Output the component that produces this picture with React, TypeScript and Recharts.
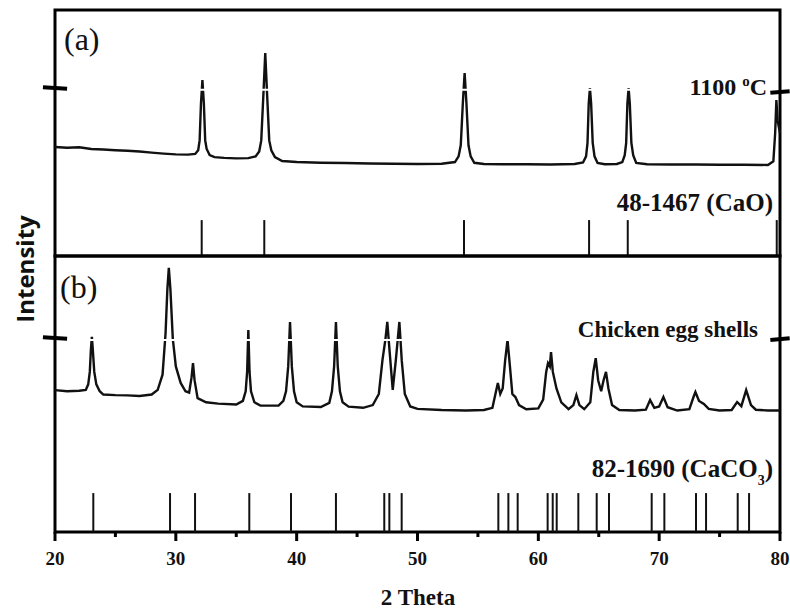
import React from 'react';
import { LineChart, Line, XAxis, YAxis, ReferenceLine, ReferenceArea } from 'recharts';

// (a) CaO after 1100 °C — [2θ, intensity]
const caoScan: [number, number][] = [
  [20, 44.3], [21, 44.0], [22, 44.2], [23, 43.5], [24, 43.3], [25, 43.0], [26, 42.8], [27, 42.5],
  [28, 42.0], [29, 41.6], [30, 41.3], [31, 41.2], [31.6, 41.5], [31.85, 43], [31.97, 47], [32.08, 62], [32.2, 71.5],
  [32.32, 62], [32.43, 47], [32.55, 43.5], [32.8, 41], [33.2, 40.2], [34, 39.9], [35, 39.7], [36, 39.8], [36.6, 40.5],
  [36.9, 42.5], [37.07, 47], [37.25, 66], [37.4, 82.5], [37.55, 66], [37.73, 47], [37.9, 43], [38.2, 40.2], [38.8, 38.6], [40, 38.2],
  [42, 37.9], [44, 37.8], [46, 37.6], [48, 37.5], [50, 37.4], [52, 37.5], [53.1, 38.2], [53.4, 40.5], [53.58, 45],
  [53.75, 62], [53.9, 74.4], [54.05, 62], [54.22, 45], [54.4, 40.5], [54.7, 37.9], [55.5, 37.4], [57, 37.3], [59, 37.3],
  [61, 37.2], [63, 37.4], [63.7, 38], [63.95, 40.5], [64.07, 46], [64.17, 62], [64.27, 68.3], [64.37, 62], [64.5, 46],
  [64.65, 40.5], [64.9, 37.8], [65.5, 37.3], [66.5, 37.4], [66.95, 38.2], [67.15, 41], [67.27, 46], [67.37, 62], [67.47, 68.3],
  [67.57, 62], [67.7, 46], [67.85, 41], [68.1, 37.8], [69, 37.3], [71, 37.2], [73, 37.2], [75, 37.1], [77, 37.1],
  [79, 37.0], [79.45, 38.5], [79.6, 50], [79.7, 63.4], [79.8, 55], [80, 50],
];

// (b) chicken egg shells
const eggScan: [number, number][] = [
  [20, 51.4], [21, 51.0], [22, 51.2], [22.55, 51.5], [22.75, 53.5], [22.88, 58], [22.97, 66], [23.05, 70.7], [23.13, 66],
  [23.25, 58], [23.42, 53.5], [23.7, 51], [24, 49.8], [25, 49.6], [26, 49.5], [27, 49.3], [28, 49.8], [28.5, 51.5],
  [28.9, 57], [29.15, 72], [29.3, 88], [29.42, 95.7], [29.55, 88], [29.75, 70], [30.0, 60], [30.4, 54],
  [30.8, 51], [31.1, 50.5], [31.3, 56], [31.42, 61.2], [31.55, 55], [31.8, 48.5], [32.5, 47.0], [33.5, 46.5],
  [35.0, 46.2], [35.55, 47.5], [35.78, 51], [35.9, 58], [36.0, 73.2], [36.1, 58], [36.22, 51], [36.5, 47], [37, 45.8], [38.5, 45.8],
  [38.9, 47.5], [39.12, 51], [39.3, 60], [39.45, 76.1], [39.6, 60], [39.78, 51], [40.0, 47], [40.5, 45.5], [42, 45.3], [42.7, 46.8],
  [42.92, 51], [43.1, 60], [43.25, 76.1], [43.4, 60], [43.58, 51], [43.8, 47], [44.3, 45.4], [45.5, 45.0], [46.3, 46], [46.8, 50],
  [47.1, 62.3], [47.35, 70], [47.5, 76.1], [47.7, 65], [47.95, 51.5], [48.2, 62], [48.5, 76.1], [48.7, 62],
  [48.95, 50], [49.4, 45.5], [50, 44.6], [52, 44.2], [54, 44.0], [55.5, 44.2], [56.2, 45], [56.5, 51],
  [56.65, 54.0], [56.85, 50], [57.05, 52], [57.25, 62], [57.45, 69.6], [57.65, 60], [57.85, 50], [58.1, 48.9],
  [58.4, 46], [59, 44.5], [60, 44.8], [60.4, 48], [60.65, 58], [60.8, 61.2], [60.95, 60], [61.05, 65.2],
  [61.2, 58], [61.5, 52], [61.9, 47], [62.5, 44.5], [62.9, 46], [63.15, 49.6], [63.4, 46], [63.8, 44.5],
  [64.3, 47], [64.55, 58], [64.75, 63.0], [64.95, 55], [65.2, 51], [65.4, 55], [65.6, 58.0], [65.8, 52],
  [66.1, 46], [66.7, 44.2], [68, 44.0], [68.9, 44.3], [69.25, 47.8], [69.6, 45], [70.0, 45.5], [70.35, 48.9],
  [70.7, 45.2], [71.5, 44.0], [72.5, 44.5], [72.85, 49], [73.0, 50.7], [73.3, 47.5], [73.7, 46.4],
  [74.1, 44.6], [75, 44.0], [76, 44.2], [76.45, 47.1], [76.8, 45.6], [77.2, 51.4], [77.6, 46], [78, 44.3],
  [79, 44.0], [80, 44.0],
];

// JCPDS reference lines
const caoRef = [32.14, 37.32, 53.85, 64.2, 67.4, 79.73];
const caco3Ref = [
  23.17, 29.52, 31.59, 36.08, 39.53, 43.25, 47.25, 47.67, 48.69, 56.69, 57.52, 58.29,
  60.77, 61.19, 61.52, 63.31, 64.83, 65.85, 69.38, 70.43, 73.05, 73.88, 76.5, 77.44,
];

const xTicks = [20, 25, 30, 35, 40, 45, 50, 55, 60, 65, 70, 75, 80];

const toRows = (scan: [number, number][]) => scan.map(([t, i]) => ({ t, i }));

const serif = '"Liberation Serif", "Times New Roman", serif';
const margin = { top: 10, right: 10, left: 55, bottom: 4 };

const XTick = (props: any) => {
  const { x, y, payload } = props;
  const major = payload.value % 10 === 0;
  return (
    <g>
      <line x1={x} x2={x} y1={y} y2={y + (major ? 9 : 5)} stroke="#000" strokeWidth={3} />
      {major && (
        <text x={x} y={y + 33} textAnchor="middle" fontFamily={serif} fontWeight="bold" fontSize={19} fill="#111">
          {payload.value}
        </text>
      )}
    </g>
  );
};

const txt = (extra: React.CSSProperties): React.CSSProperties => ({
  position: 'absolute',
  fontFamily: serif,
  fontWeight: 'bold',
  lineHeight: 1,
  color: '#111',
  whiteSpace: 'nowrap',
  transform: 'translateY(-50%)',
  ...extra,
});

const Panel = ({ rows, refs, gap, breakL, breakR, stickTop, top, height, showAxis }: any) => (
  <div style={{ position: 'absolute', left: 0, top }}>
    <LineChart
      width={790}
      height={height}
      data={rows}
      margin={showAxis ? { ...margin, top: 4, bottom: 0 } : margin}
    >
      <XAxis
        type="number"
        dataKey="t"
        domain={[20, 80]}
        ticks={xTicks}
        interval={0}
        hide={!showAxis}
        height={76}
        axisLine={false}
        tickLine={false}
        tickSize={0}
        tickMargin={0}
        tick={<XTick />}
      />
      <YAxis type="number" domain={[0, 100]} hide />
      <ReferenceArea x1={20} x2={80} y1={0} y2={100} fill="none" stroke="#000" strokeWidth={3} />
      <Line type="linear" dataKey="i" stroke="#111" strokeWidth={2.4} dot={false} isAnimationActive={false} />
      <ReferenceLine
        segment={[{ x: 20.3, y: gap }, { x: 79.6, y: gap }]}
        stroke="#fff"
        strokeWidth={2}
      />
      {refs.map((t: number) => (
        <ReferenceLine
          key={t}
          segment={[{ x: t, y: 0 }, { x: t, y: stickTop }]}
          stroke="#111"
          strokeWidth={2}
        />
      ))}
      <ReferenceLine
        segment={[{ x: 19, y: breakL + 0.3 }, { x: 21, y: breakL - 0.3 }]}
        stroke="#000"
        strokeWidth={4}
        ifOverflow="visible"
      />
      <ReferenceLine
        segment={[{ x: 79.2, y: breakR - 0.3 }, { x: 80.8, y: breakR + 0.3 }]}
        stroke="#000"
        strokeWidth={4}
        ifOverflow="visible"
      />
    </LineChart>
  </div>
);

export default function App() {
  return (
    <div style={{ position: 'absolute', left: 0, top: 0, width: 790, height: 608, background: '#fff', overflow: 'hidden' }}>
      <Panel rows={toRows(caoScan)} refs={caoRef} gap={67.6} breakL={68.3} breakR={66.7} stickTop={14.6} top={0} height={260} />
      <Panel rows={toRows(eggScan)} refs={caco3Ref} gap={69.6} breakL={70.3} breakR={69.9} stickTop={14.1} top={252} height={356} showAxis />

      <div style={txt({ left: 64, top: 39, fontWeight: 'normal', fontSize: 32 })}>(a)</div>
      <div style={txt({ left: 60, top: 287, fontWeight: 'normal', fontSize: 32 })}>(b)</div>
      <div style={txt({ right: 23, top: 87, fontSize: 24 })}>
        1100 <span style={{ fontSize: 15, position: 'relative', top: -9 }}>o</span>C
      </div>
      <div style={txt({ right: 17, top: 202, fontSize: 25 })}>48-1467 (CaO)</div>
      <div style={txt({ right: 32, top: 329, fontSize: 23 })}>Chicken egg shells</div>
      <div style={txt({ right: 17, top: 468, fontSize: 25 })}>
        82-1690 (CaCO<span style={{ fontSize: 14, position: 'relative', top: 8 }}>3</span>)
      </div>
      <div style={txt({ left: 418, top: 597, fontSize: 23, transform: 'translate(-50%, -50%)' })}>2 Theta</div>
      <div
        style={{
          position: 'absolute',
          left: 25,
          top: 269,
          transform: 'translate(-50%, -50%) rotate(-90deg)',
          fontFamily: '"Open Sans", sans-serif',
          fontWeight: 700,
          fontSize: 24,
          lineHeight: 1,
          color: '#111',
          whiteSpace: 'nowrap',
        }}
      >
        Intensity
      </div>
    </div>
  );
}
